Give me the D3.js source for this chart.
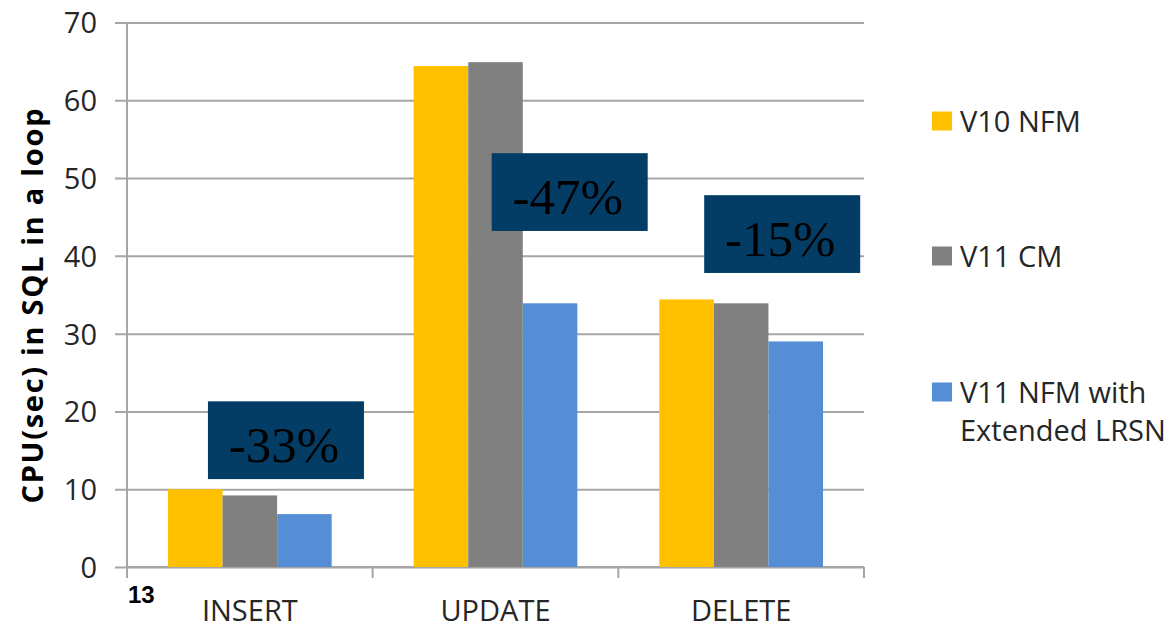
<!DOCTYPE html>
<html>
<head>
<meta charset="utf-8">
<script src="https://cdn.jsdelivr.net/npm/d3@7"></script>
<style>
  body { margin: 0; background: #fff; }
  svg { display: block; }
  .grid line { stroke: #a6a6a6; stroke-width: 2; }
  .grid .domain { display: none; }
  .ylab text, .xlab text { font-family: "Open Sans", sans-serif; font-size: 29px; fill: #262626; }
  .ylab .domain, .ylab line, .xlab .domain, .xlab line { display: none; }
</style>
</head>
<body>
<script>
// data
var categories = ["INSERT", "UPDATE", "DELETE"];
var series = ["V10 NFM", "V11 CM", "V11 NFM with Extended LRSN"];
var v10nfm = [10.0, 64.4, 34.4];
var v11cm = [9.2, 64.9, 33.9];
var v11nfmExt = [6.8, 33.9, 29.0];
var yTicks = [0, 10, 20, 30, 40, 50, 60, 70];
var colors = ["#ffc000", "#808080", "#558ed5"];

// callout boxes: label, top of box in axis units, position inside the category band
var noteLabels = ["-33%", "-47%", "-15%"];
var noteTop = [21.3, 53.2, 47.8];
var noteSpot = [0.647, 0.802, 0.667];

function drawChart(){

    var width = 1171,
        height = 628;

    var svg = d3.select("body")
        .append("svg")
        .attr("width", width)
        .attr("height", height);

    //plot frame
    var left = 127, right = 864, top = 22.5, bottom = 567;

    var y = d3.scaleLinear()
        .domain([0, 70])
        .range([bottom, top]);

    var x0 = d3.scaleBand()
        .domain(categories)
        .range([left, right]);

    var x1 = d3.scaleBand()
        .domain(series)
        .range([41, x0.bandwidth() - 41]);

    //gridlines
    svg.append("g")
        .attr("class", "grid")
        .attr("transform", "translate(115,0)")
        .call(d3.axisRight(y).tickValues(yTicks).tickSize(right - 115).tickFormat(""));

    //y tick labels
    svg.append("g")
        .attr("class", "ylab")
        .attr("transform", "translate(" + left + ",0)")
        .call(d3.axisLeft(y).tickValues(yTicks).tickSize(0).tickPadding(30))
        .selectAll("text")
        .attr("dy", "0.36em");

    //axis lines
    svg.append("line")
        .attr("x1", left).attr("x2", left)
        .attr("y1", y(70)).attr("y2", bottom + 11)
        .attr("stroke", "#a6a6a6").attr("stroke-width", 2);
    svg.append("line")
        .attr("x1", left).attr("x2", right)
        .attr("y1", bottom).attr("y2", bottom)
        .attr("stroke", "#a6a6a6").attr("stroke-width", 2);

    var bounds = categories.map(function(c){ return x0(c); }).concat([right]);
    svg.selectAll(".xtick")
        .data(bounds)
        .enter()
        .append("line")
        .attr("class", "xtick")
        .attr("x1", function(d){ return d; })
        .attr("x2", function(d){ return d; })
        .attr("y1", bottom)
        .attr("y2", bottom + 11)
        .attr("stroke", "#a6a6a6")
        .attr("stroke-width", 2);

    //category labels
    svg.append("g")
        .attr("class", "xlab")
        .attr("transform", "translate(0," + bottom + ")")
        .call(d3.axisBottom(x0).tickSize(0).tickPadding(33));

    //bars
    var rows = categories.map(function(c, i){
        return { cat: c, vals: [v10nfm[i], v11cm[i], v11nfmExt[i]] };
    });

    var groups = svg.selectAll(".group")
        .data(rows)
        .enter()
        .append("g")
        .attr("class", "group")
        .attr("transform", function(d){ return "translate(" + x0(d.cat) + ",0)"; });

    groups.selectAll("rect")
        .data(function(d){
            return d.vals.map(function(v, j){ return { s: series[j], v: v, c: colors[j] }; });
        })
        .enter()
        .append("rect")
        .attr("x", function(d){ return x1(d.s); })
        .attr("width", x1.bandwidth())
        .attr("y", function(d){ return y(d.v); })
        .attr("height", function(d){ return bottom - y(d.v); })
        .attr("fill", function(d){ return d.c; });

    //callout boxes
    var boxW = 156, boxH = y(0) - y(10);
    var notes = svg.selectAll(".note")
        .data(noteLabels)
        .enter()
        .append("g")
        .attr("class", "note")
        .attr("transform", function(d, i){
            var cx = x0(categories[i]) + noteSpot[i] * x0.bandwidth();
            return "translate(" + (cx - boxW / 2) + "," + y(noteTop[i]) + ")";
        });

    notes.append("rect")
        .attr("width", boxW)
        .attr("height", boxH)
        .attr("fill", "#033d66");

    notes.append("text")
        .attr("x", boxW / 2 - 2)
        .attr("y", 61)
        .attr("text-anchor", "middle")
        .style("font-family", "'Liberation Serif', serif")
        .style("font-size", "51px")
        .attr("fill", "#000")
        .text(function(d){ return d; });

    //y axis title
    svg.append("text")
        .attr("transform", "translate(43,306) rotate(-90)")
        .attr("text-anchor", "middle")
        .attr("textLength", 395)
        .attr("lengthAdjust", "spacing")
        .style("font-family", "'Open Sans', sans-serif")
        .style("font-weight", "bold")
        .style("font-size", "29px")
        .attr("fill", "#000")
        .text("CPU(sec) in SQL in a loop");

    //slide number
    svg.append("text")
        .attr("x", 128)
        .attr("y", 603)
        .style("font-family", "'Liberation Sans', sans-serif")
        .style("font-weight", "bold")
        .style("font-size", "24px")
        .attr("fill", "#000")
        .text("13");

    //legend
    var legendY = [121, 256, 392];
    var legendLines = [["V10 NFM"], ["V11 CM"], ["V11 NFM with", "Extended LRSN"]];
    var legend = svg.selectAll(".legend")
        .data(series)
        .enter()
        .append("g")
        .attr("class", "legend")
        .attr("transform", function(d, i){ return "translate(932," + legendY[i] + ")"; });

    legend.append("rect")
        .attr("y", -9.5)
        .attr("width", 20)
        .attr("height", 19)
        .attr("fill", function(d, i){ return colors[i]; });

    legend.each(function(d, i){
        var t = d3.select(this).append("text")
            .style("font-family", "'Open Sans', sans-serif")
            .style("font-size", "29px")
            .attr("fill", "#262626");
        legendLines[i].forEach(function(line, k){
            t.append("tspan")
                .attr("x", 28)
                .attr("y", 10.5 + k * 38)
                .text(line);
        });
    });
};

drawChart();
</script>
</body>
</html>
